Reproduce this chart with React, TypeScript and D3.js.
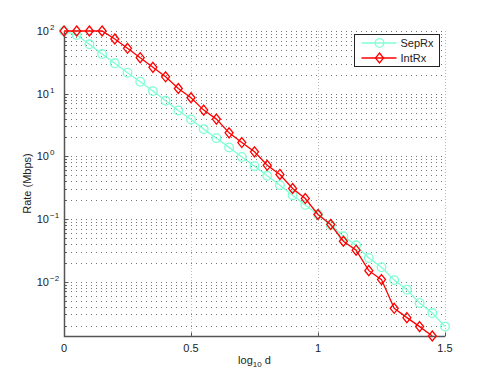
import React, { useRef, useEffect } from "react";
import * as d3 from "d3";

// x values: log10 d, step 0.05
const xsSep = [
  0, 0.05, 0.1, 0.15, 0.2, 0.25, 0.3, 0.35, 0.4, 0.45, 0.5, 0.55, 0.6, 0.65, 0.7, 0.75,
  0.8, 0.85, 0.9, 0.95, 1.0, 1.05, 1.1, 1.15, 1.2, 1.25, 1.3, 1.35, 1.4, 1.45, 1.5,
];
const sepRx = [
  100, 86.3, 61.3, 42.9, 30.5, 21.6, 15.5, 11.0, 7.7, 5.4, 3.88, 2.72, 1.95, 1.39, 0.98, 0.697,
  0.489, 0.347, 0.24, 0.168, 0.118, 0.0796, 0.0531, 0.0381, 0.0239, 0.017, 0.0106, 0.00747,
  0.00457, 0.00316, 0.00192,
];
const xsInt = xsSep.slice(0, 30);
const intRx = [
  100, 100, 100, 100, 74.5, 52.9, 37.5, 26.3, 18.6, 12.1, 8.6, 5.47, 3.93, 2.37, 1.66, 1.18,
  0.72, 0.514, 0.307, 0.212, 0.118, 0.0817, 0.0442, 0.0318, 0.015, 0.0108, 0.00376, 0.00267,
  0.00192, 0.00136,
];
const xTicks = [0, 0.5, 1, 1.5];
const xTickLabels = ["0", "0.5", "1", "1.5"];
const yExponents = [-2, -1, 0, 1, 2];
const seriesNames = ["SepRx", "IntRx"];

function App() {
  const canvas = useRef<HTMLDivElement>(null);

  function drawChart() {
    const [width, height] = [491, 379];
    const margin = { left: 64, right: 46, top: 31, bottom: 43 };
    const font = "'Liberation Sans', Arial, Helvetica, sans-serif";
    const sepColor = "#7fffd4";
    const intColor = "#ff0000";

    const yMin = d3.min(intRx.concat(sepRx)) as number;
    const x = d3
      .scaleLinear()
      .domain([0, 1.5])
      .range([margin.left, width - margin.right]);
    const y = d3
      .scaleLog()
      .domain([yMin, 100])
      .range([height - margin.bottom, margin.top]);

    d3.select(canvas.current).selectAll("*").remove();
    const svg = d3
      .select(canvas.current)
      .append("svg")
      .attr("width", width)
      .attr("height", height)
      .attr("viewBox", [0, 0, width, height])
      .style("display", "block")
      .style("font-family", font);

    svg.append("rect").attr("width", width).attr("height", height).attr("fill", "#fff");

    // minor + major y grid
    const yGridVals: number[] = [];
    for (let e = -3; e <= 2; e++) {
      for (let m = 1; m <= 9; m++) {
        const v = m * Math.pow(10, e);
        if (v >= yMin && v <= 100) yGridVals.push(v);
      }
    }
    const gGrid = svg.append("g");
    gGrid
      .selectAll(".y")
      .data(yGridVals)
      .join("line")
      .attr("class", "y")
      .attr("x1", x(0) + 2)
      .attr("x2", x(1.5))
      .attr("y1", (d) => Math.round(y(d)) + 0.5)
      .attr("y2", (d) => Math.round(y(d)) + 0.5)
      .attr("stroke", "#777")
      .attr("stroke-width", 1)
      .attr("stroke-dasharray", "1,4");
    gGrid
      .selectAll(".x")
      .data(xTicks.slice(1))
      .join("line")
      .attr("class", "x")
      .attr("x1", (d) => Math.round(x(d)) + 0.5)
      .attr("x2", (d) => Math.round(x(d)) + 0.5)
      .attr("y1", y(100))
      .attr("y2", y(yMin))
      .attr("stroke", "#bbb")
      .attr("stroke-width", 1)
      .attr("stroke-dasharray", "1,2");

    // axes lines
    const x0 = Math.round(x(0)) + 0.5;
    const yb = Math.round(y(yMin)) + 0.5;
    svg
      .append("path")
      .attr("d", `M${x0},${y(100)}V${yb}H${x(1.5)}`)
      .attr("fill", "none")
      .attr("stroke", "#555")
      .attr("stroke-width", 1.5);

    // ticks (inward)
    svg
      .append("g")
      .selectAll("line")
      .data(yGridVals)
      .join("line")
      .attr("x1", x0)
      .attr("x2", (d) => (yExponents.some((e) => Math.abs(Math.pow(10, e) - d) < 1e-12) ? x0 + 4 : x0 + 2))
      .attr("y1", (d) => Math.round(y(d)) + 0.5)
      .attr("y2", (d) => Math.round(y(d)) + 0.5)
      .attr("stroke", "#555");
    svg
      .append("g")
      .selectAll("line")
      .data(xTicks)
      .join("line")
      .attr("x1", (d) => Math.round(x(d)) + 0.5)
      .attr("x2", (d) => Math.round(x(d)) + 0.5)
      .attr("y1", yb)
      .attr("y2", yb - 4)
      .attr("stroke", "#555");

    // y tick labels 10^e
    const yLab = svg
      .append("g")
      .selectAll("g")
      .data(yExponents)
      .join("g")
      .attr("transform", (d) => `translate(0, ${y(Math.pow(10, d))})`);
    yLab
      .append("text")
      .attr("x", 49)
      .attr("y", 4)
      .attr("text-anchor", "end")
      .attr("font-size", 11)
      .attr("fill", "#222")
      .text("10");
    yLab
      .append("text")
      .attr("x", 50)
      .attr("y", -1)
      .attr("font-size", 8)
      .attr("fill", "#222")
      .text((d) => (d < 0 ? "\u2212" + Math.abs(d) : String(d)));

    // x tick labels
    svg
      .append("g")
      .selectAll("text")
      .data(xTicks)
      .join("text")
      .attr("x", (d) => x(d))
      .attr("y", yb + 15)
      .attr("text-anchor", "middle")
      .attr("font-size", 11)
      .attr("fill", "#222")
      .text((d, i) => xTickLabels[i]);

    // axis labels
    const xl = svg
      .append("text")
      .attr("x", (x(0) + x(1.5)) / 2)
      .attr("y", 364)
      .attr("text-anchor", "middle")
      .attr("font-size", 11)
      .attr("fill", "#222");
    xl.append("tspan").text("log");
    xl.append("tspan").attr("font-size", 8).attr("dy", 3).text("10");
    xl.append("tspan").attr("dy", -3).text(" d");

    svg
      .append("text")
      .attr("transform", `translate(31, ${(y(100) + y(yMin)) / 2}) rotate(-90)`)
      .attr("text-anchor", "middle")
      .attr("font-size", 11)
      .attr("fill", "#222")
      .text("Rate (Mbps)");

    // series
    const line = d3
      .line<[number, number]>()
      .x((d) => x(d[0]))
      .y((d) => y(d[1]));
    const sepData: [number, number][] = xsSep.map((v, i) => [v, sepRx[i]]);
    const intData: [number, number][] = xsInt.map((v, i) => [v, intRx[i]]);
    const diamond = (cx: number, cy: number) =>
      `M${cx},${cy - 5}L${cx + 4},${cy}L${cx},${cy + 5}L${cx - 4},${cy}Z`;

    svg
      .append("path")
      .datum(sepData)
      .attr("d", line)
      .attr("fill", "none")
      .attr("stroke", sepColor)
      .attr("stroke-width", 1.3);
    svg
      .append("g")
      .selectAll("circle")
      .data(sepData)
      .join("circle")
      .attr("cx", (d) => x(d[0]))
      .attr("cy", (d) => y(d[1]))
      .attr("r", 4.3)
      .attr("fill", "none")
      .attr("stroke", sepColor)
      .attr("stroke-width", 1.3);

    svg
      .append("path")
      .datum(intData)
      .attr("d", line)
      .attr("fill", "none")
      .attr("stroke", intColor)
      .attr("stroke-width", 1.3);
    svg
      .append("g")
      .selectAll("path")
      .data(intData)
      .join("path")
      .attr("d", (d) => diamond(x(d[0]), y(d[1])))
      .attr("fill", "none")
      .attr("stroke", intColor)
      .attr("stroke-width", 1.3);

    // legend
    const lg = svg.append("g").attr("transform", "translate(354.5, 34.5)");
    lg.append("rect")
      .attr("width", 85)
      .attr("height", 32)
      .attr("fill", "#fff")
      .attr("stroke", "#222")
      .attr("stroke-width", 1);
    seriesNames.forEach((name, i) => {
      const cy = 8.5 + i * 15;
      const color = i === 0 ? sepColor : intColor;
      lg.append("line")
        .attr("x1", 7)
        .attr("x2", 42)
        .attr("y1", cy)
        .attr("y2", cy)
        .attr("stroke", color)
        .attr("stroke-width", 1.3);
      if (i === 0) {
        lg.append("circle")
          .attr("cx", 25)
          .attr("cy", cy)
          .attr("r", 4.3)
          .attr("fill", "none")
          .attr("stroke", color)
          .attr("stroke-width", 1.3);
      } else {
        lg.append("path")
          .attr("d", diamond(25, cy))
          .attr("fill", "none")
          .attr("stroke", color)
          .attr("stroke-width", 1.3);
      }
      lg.append("text")
        .attr("x", 46)
        .attr("y", cy + 4)
        .attr("font-size", 11)
        .attr("fill", "#222")
        .text(name);
    });
  }

  useEffect(() => {
    document.body.style.margin = "0";
    drawChart();
  }, []);

  return <div ref={canvas} />;
}

export default App;
